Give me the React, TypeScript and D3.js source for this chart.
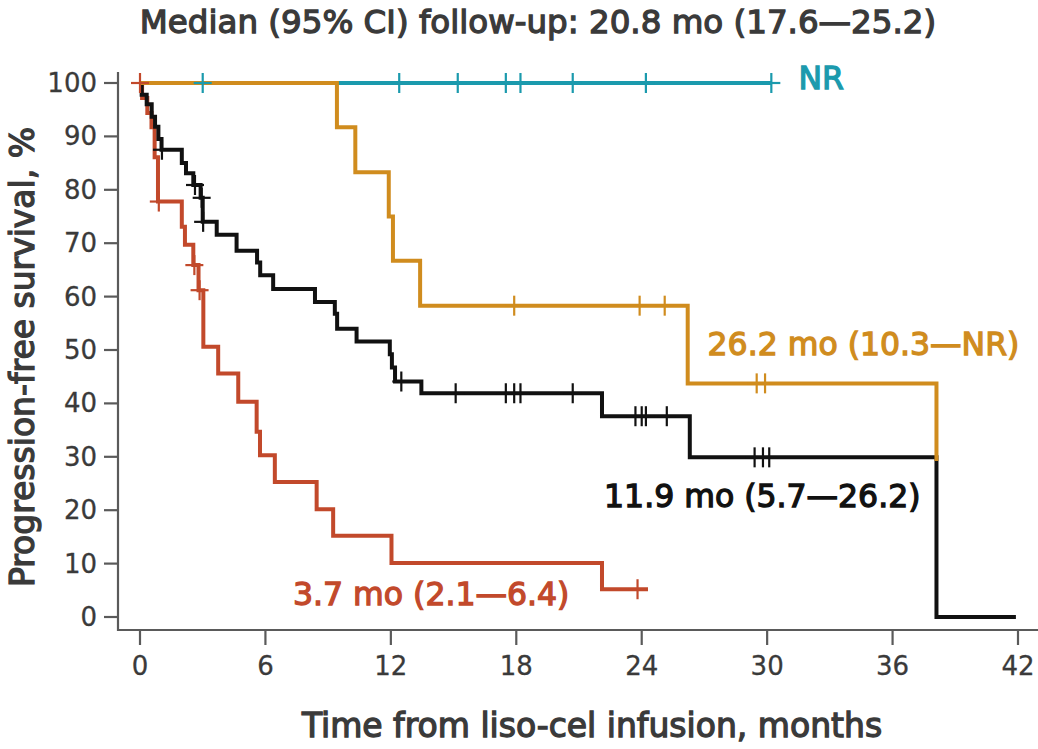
import React from "react";
import * as d3 from "d3";

const W = 1038;
const H = 749;

const titleText = "Median (95% CI) follow-up: 20.8 mo (17.6\u201425.2)";
const xTitle = "Time from liso-cel infusion, months";
const yTitle = "Progression-free survival, %";
const xTicks = [0, 6, 12, 18, 24, 30, 36, 42];
const yTicks = [0, 10, 20, 30, 40, 50, 60, 70, 80, 90, 100];

// KM steps: [time (months), survival (%) after the drop]
const tealSteps: [number, number][] = [];
const tealEnd = 30.2;
const tealCensor = [3.0, 12.4, 15.2, 17.5, 18.2, 20.7, 24.2, 30.2];

const goldSteps: [number, number][] = [
  [9.42, 91.7], [10.3, 83.3], [11.9, 75.0], [12.1, 66.7], [13.4, 58.3],
  [26.2, 43.75], [38.1, 29.2],
];
const goldEnd = 38.1;
const goldCensor = [17.9, 23.9, 25.1, 29.5, 29.9];

const blackSteps: [number, number][] = [
  [0.08, 97.8], [0.32, 96.0], [0.56, 93.7], [0.72, 91.8], [0.88, 89.5], [1.03, 87.5],
  [2.0, 85.0], [2.2, 83.1], [2.55, 80.9], [2.9, 78.5], [3.0, 74.0], [3.67, 71.6],
  [4.62, 68.6], [5.6, 66.4], [5.75, 64.0], [6.37, 61.4], [8.37, 59.0], [9.32, 56.8],
  [9.43, 54.0], [10.36, 51.6], [11.95, 49.2], [12.05, 46.7], [12.2, 44.1], [13.46, 41.9],
  [22.1, 37.6], [26.3, 29.9], [38.1, 0],
];
const blackEnd = 41.9;
const blackCensor = [1.05, 2.63, 2.95, 3.02, 12.5, 15.1, 17.5, 17.9, 18.2, 20.7, 23.7, 24.0, 24.2, 25.2, 29.4, 29.8, 30.1];

const redSteps: [number, number][] = [
  [0.1, 97.2], [0.35, 94.4], [0.55, 91.7], [0.7, 86.1], [0.86, 77.8], [2.0, 73.1],
  [2.15, 69.7], [2.55, 65.9], [2.8, 61.2], [3.03, 50.6], [3.74, 45.6], [4.7, 40.3],
  [5.58, 34.7], [5.74, 30.3], [6.45, 25.3], [8.45, 20.2], [9.24, 15.2], [12.03, 10.1],
  [22.1, 5.2],
];
const redEnd = 24.3;
const redCensor = [0, 0.9, 2.6, 2.85, 23.8];

const labels = [
  { text: "NR", t: 31.5, v: 101, color: "#1b9aad" },
  { text: "26.2 mo (10.3\u2014NR)", t: 27.15, v: 51.2, color: "#d08c1e" },
  { text: "11.9 mo (5.7\u201426.2)", t: 22.2, v: 22.7, color: "#111111" },
  { text: "3.7 mo (2.1\u20146.4)", t: 7.32, v: 4.4, color: "#c2492b" },
];

const x = d3.scaleLinear().domain([0, 42]).range([140, 1018]);
const y = d3.scaleLinear().domain([0, 100]).range([617, 83]);

function buildPoints(steps: [number, number][], end: number): [number, number][] {
  const pts: [number, number][] = [[0, 100], ...steps];
  const last = pts[pts.length - 1];
  if (last[0] < end) pts.push([end, last[1]]);
  return pts;
}

function levelAt(steps: [number, number][], t: number): number {
  let v = 100;
  for (const [st, sv] of steps) if (st <= t) v = sv;
  return v;
}

const lineGen = d3
  .line<[number, number]>()
  .x((d) => x(d[0]))
  .y((d) => y(d[1]))
  .curve(d3.curveStepAfter);

const FONT = "'DejaVu Sans', Verdana, sans-serif";

function Censors({ steps, times, color }: { steps: [number, number][]; times: number[]; color: string }) {
  return (
    <g stroke={color} strokeWidth={2.2}>
      {times.map((t, i) => {
        const cx = x(t);
        const cy = y(levelAt(steps, t));
        return (
          <g key={i}>
            <line x1={cx} x2={cx} y1={cy - 10} y2={cy + 10} />
            <line x1={cx - 9} x2={cx + 9} y1={cy} y2={cy} />
          </g>
        );
      })}
    </g>
  );
}

export default function App() {
  const series = [
    { steps: tealSteps, end: tealEnd, color: "#1b9aad" },
    { steps: redSteps, end: redEnd, color: "#c2492b" },
    { steps: blackSteps, end: blackEnd, color: "#111111" },
    { steps: goldSteps, end: goldEnd, color: "#d08c1e" },
  ];
  const axisColor = "#5a5a5a";
  const textColor = "#3a3a3a";
  return (
    <svg
      width={W}
      height={H}
      style={{ position: "absolute", left: 0, top: 0, background: "#fff" }}
      fontFamily={FONT}
    >
      <text
        x={538}
        y={22}
        textAnchor="middle"
        dominantBaseline="central"
        fontSize={32.5}
        fill={textColor}
        stroke={textColor}
        strokeWidth={1.3}
      >
        {titleText}
      </text>

      {/* axes */}
      <line x1={118} x2={118} y1={72} y2={631} stroke={axisColor} strokeWidth={2.2} />
      <line x1={117} x2={1038} y1={630} y2={630} stroke={axisColor} strokeWidth={2.2} />
      {yTicks.map((v) => (
        <g key={v}>
          <line x1={104} x2={118} y1={y(v)} y2={y(v)} stroke={axisColor} strokeWidth={2.2} />
          <text
            x={97}
            y={y(v)}
            textAnchor="end"
            dominantBaseline="central"
            fontSize={26}
            fill={textColor}
            stroke={textColor}
            strokeWidth={0.3}
          >
            {v}
          </text>
        </g>
      ))}
      {xTicks.map((t) => (
        <g key={t}>
          <line x1={x(t)} x2={x(t)} y1={630} y2={645} stroke={axisColor} strokeWidth={2.2} />
          <text
            x={x(t)}
            y={666}
            textAnchor="middle"
            dominantBaseline="central"
            fontSize={26}
            fill={textColor}
            stroke={textColor}
            strokeWidth={0.3}
          >
            {t}
          </text>
        </g>
      ))}
      <text
        x={592}
        y={725}
        textAnchor="middle"
        dominantBaseline="central"
        fontSize={33}
        fill={textColor}
        stroke={textColor}
        strokeWidth={1.3}
      >
        {xTitle}
      </text>
      <text
        transform={`translate(22,357) rotate(-90)`}
        textAnchor="middle"
        dominantBaseline="central"
        fontSize={33}
        fill={textColor}
        stroke={textColor}
        strokeWidth={1.3}
      >
        {yTitle}
      </text>

      {/* curves */}
      {series.map((s, i) => (
        <path
          key={i}
          d={lineGen(buildPoints(s.steps, s.end)) || ""}
          fill="none"
          stroke={s.color}
          strokeWidth={4}
          strokeLinejoin="miter"
        />
      ))}
      <Censors steps={tealSteps} times={tealCensor} color="#1b9aad" />
      <Censors steps={redSteps} times={redCensor} color="#c2492b" />
      <Censors steps={blackSteps} times={blackCensor} color="#111111" />
      <Censors steps={goldSteps} times={goldCensor} color="#d08c1e" />

      {labels.map((l, i) => (
        <text
          key={i}
          x={x(l.t)}
          y={y(l.v)}
          dominantBaseline="central"
          fontSize={31.5}
          fill={l.color}
          stroke={l.color}
          strokeWidth={1.3}
        >
          {l.text}
        </text>
      ))}
    </svg>
  );
}
